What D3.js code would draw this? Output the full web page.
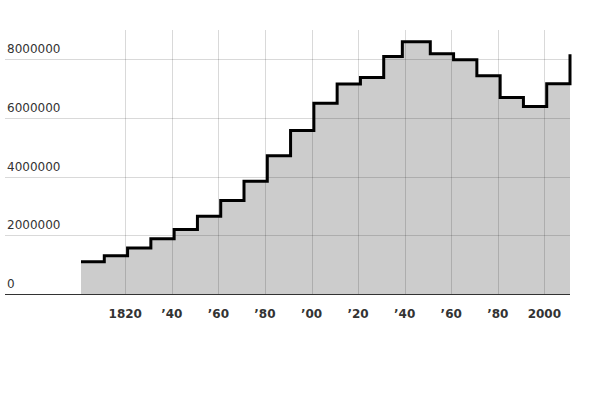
<!DOCTYPE html>
<html lang="en">
<head>
<meta charset="UTF-8">
<script src="https://d3js.org/d3.v7.min.js"></script>
<style>
  body { margin: 0; background: #fff; }
  svg { font-family: "DejaVu Sans", sans-serif; }
  .grid line { stroke: #000; stroke-opacity: 0.15; }
  .ylab { font-size: 12px; fill: #333; }
  .xlab { font-size: 12px; font-weight: bold; fill: #333; text-anchor: middle; }
</style>
</head>
<body>
<script>
// London population, census years
const years = [1801, 1811, 1821, 1831, 1841, 1851, 1861, 1871, 1881, 1891, 1901,
  1911, 1921, 1931, 1939, 1951, 1961, 1971, 1981, 1991, 2001, 2011];
const population = [1100000, 1300000, 1570000, 1880000, 2200000, 2650000, 3190000,
  3840000, 4710000, 5570000, 6500000, 7160000, 7380000, 8100000, 8600000, 8190000,
  7990000, 7440000, 6700000, 6390000, 7170000, 8170000];
const yTicks = [0, 2000000, 4000000, 6000000, 8000000];
const xTicks = [1820, 1840, 1860, 1880, 1900, 1920, 1940, 1960, 1980, 2000];
const xTickLabels = ["1820", "\u201940", "\u201960", "\u201980", "\u201900", "\u201920", "\u201940", "\u201960", "\u201980", "2000"];

const data = years.map((y, i) => ({ year: y, value: population[i] }));

const width = 600, height = 400;
const svg = d3.select("body").append("svg")
  .attr("width", width)
  .attr("height", height);

const x = d3.scaleLinear().domain([1801, 2011]).range([81, 570]);
const y = d3.scaleLinear().domain([0, 9000000]).range([294, 30]);

// area
svg.append("path")
  .datum(data)
  .attr("fill", "#ccc")
  .attr("d", d3.area().curve(d3.curveStepAfter)
    .x(d => x(d.year)).y0(y(0)).y1(d => y(d.value)));

// grid
const grid = svg.append("g").attr("class", "grid");
grid.selectAll(".gy").data(yTicks.filter(d => d > 0)).enter().append("line")
  .attr("x1", 5).attr("x2", 570)
  .attr("y1", d => Math.round(y(d)) + 0.5).attr("y2", d => Math.round(y(d)) + 0.5);
grid.selectAll(".gx").data(xTicks).enter().append("line")
  .attr("x1", d => Math.round(x(d)) + 0.5).attr("x2", d => Math.round(x(d)) + 0.5)
  .attr("y1", 30).attr("y2", 294);

// line
svg.append("path")
  .datum(data)
  .attr("fill", "none")
  .attr("stroke", "#000")
  .attr("stroke-width", 3)
  .attr("d", d3.line().curve(d3.curveStepAfter)
    .x(d => x(d.year)).y(d => y(d.value)));

// baseline
svg.append("line")
  .attr("x1", 5).attr("x2", 570)
  .attr("y1", y(0) + 0.5).attr("y2", y(0) + 0.5)
  .attr("stroke", "#333");

// y labels
svg.selectAll(".ylab").data(yTicks).enter().append("text")
  .attr("class", "ylab")
  .attr("x", 7)
  .attr("y", d => y(d) - 6)
  .text(d => d);

// x labels
svg.selectAll(".xlab").data(xTicks).enter().append("text")
  .attr("class", "xlab")
  .attr("x", d => x(d))
  .attr("y", 318)
  .text((d, i) => xTickLabels[i]);
</script>
</body>
</html>
